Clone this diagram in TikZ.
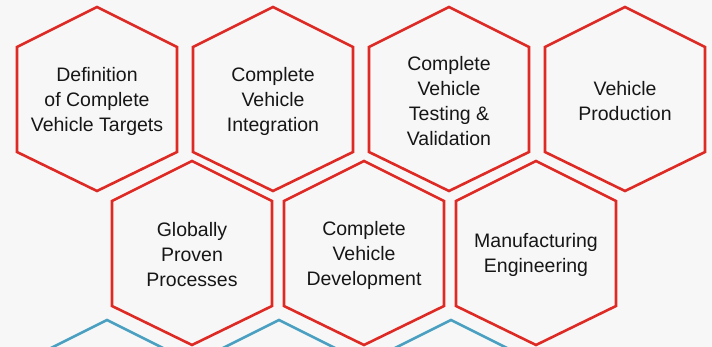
\documentclass[tikz,border=0pt]{standalone}
\usepackage{fontspec}
\setmainfont{Liberation Sans}
\usetikzlibrary{positioning}

\definecolor{hexred}{RGB}{222,42,36}
\definecolor{hexblue}{RGB}{74,160,192}
\definecolor{bggray}{RGB}{247,247,247}
\definecolor{txtgray}{RGB}{22,22,22}

\begin{document}
\begin{tikzpicture}[x=1pt, y=-1pt, on grid,
    hexlabel/.style={align=center, text=txtgray, inner sep=0pt,
        font=\fontsize{19.5}{25}\selectfont},
    hexline/.style={line width=2.6pt, line join=miter}]

        \useasboundingbox (0,0) rectangle (712,347);
        \fill[bggray] (0,0) rectangle (712,347);
        \clip (0,0) rectangle (712,347);

        % Top row
        \node[hexlabel] (def) at (97,101) {Definition\\of Complete\\Vehicle Targets};
        \node[hexlabel, right=176pt of def] (integ) {Complete\\Vehicle\\Integration};
        \node[hexlabel, right=176pt of integ] (test) {Complete\\Vehicle\\Testing \&\\Validation};
        \node[hexlabel, right=176pt of test] (prod) {Vehicle\\Production};

        % Middle row
        \node[hexlabel] (proc) at (192,255) {Globally\\Proven\\Processes};
        \node[hexlabel, right=172pt of proc] (dev) {Complete\\Vehicle\\Development};
        \node[hexlabel, right=172pt of dev] (mfg) {Manufacturing\\Engineering};

        % Bottom row (cut off)
        \coordinate (b1) at (107,412);
        \coordinate[right=172pt of b1] (b2);
        \coordinate[right=172pt of b2] (b3);

        % Hexagon outlines (text sits 2pt below the centre)
        \foreach \n in {def,integ,test,prod,proc,dev,mfg}
            \draw[hexline, hexred] ([shift={(0,-94)}]\n.center) -- ([shift={(80,-54)}]\n.center)
                -- ([shift={(80,51)}]\n.center) -- ([shift={(0,90)}]\n.center)
                -- ([shift={(-80,51)}]\n.center) -- ([shift={(-80,-54)}]\n.center) -- cycle;
        \foreach \n in {b1,b2,b3}
            \draw[hexline, hexblue] ([shift={(0,-92)}]\n) -- ([shift={(80,-52)}]\n)
                -- ([shift={(80,53)}]\n) -- ([shift={(0,92)}]\n)
                -- ([shift={(-80,53)}]\n) -- ([shift={(-80,-52)}]\n) -- cycle;

    \end{tikzpicture}
\end{document}
